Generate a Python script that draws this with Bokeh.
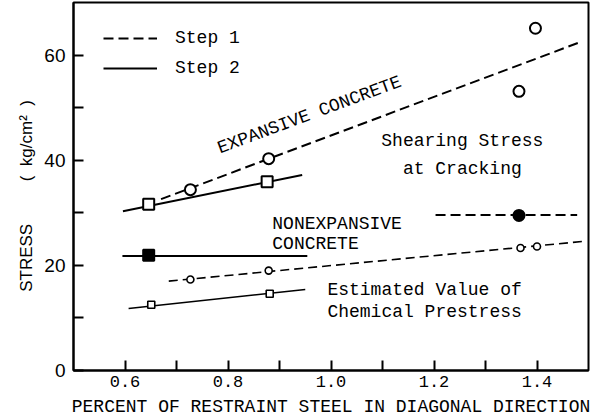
import math
from bokeh.plotting import figure
from bokeh.models import Range1d, FixedTicker, Label, Legend, LegendItem, PrintfTickFormatter
from bokeh.embed import file_html
from bokeh.resources import INLINE

# ---- axis ticks ----
x_major = [0.6, 0.8, 1.0, 1.2, 1.4]
x_minor = [0.7, 0.9, 1.1, 1.3]
y_major = [0, 20, 40, 60]
y_minor = [10, 30, 50]

# ---- Expansive concrete, Step 1 (shearing stress at cracking) ----
exp1_x = [0.727, 0.879, 1.365, 1.397]
exp1_y = [34.4, 40.3, 53.1, 65.1]
exp1_line_x = [0.67, 1.485]
exp1_line_y = [32.6, 62.5]

# ---- Expansive concrete, Step 2 ----
exp2_x = [0.646, 0.876]
exp2_y = [31.6, 35.9]
exp2_line_x = [0.596, 0.944]
exp2_line_y = [30.3, 37.2]

# ---- Nonexpansive concrete, Step 2 ----
non2_x = [0.646]
non2_y = [21.9]
non2_line_x = [0.595, 0.954]
non2_line_y = [21.8, 21.8]

# ---- Nonexpansive concrete, Step 1 ----
non1_x = [1.365]
non1_y = [29.5]
non1_line_x = [1.203, 1.478]
non1_line_y = [29.6, 29.6]

# ---- Estimated chemical prestress, Step 1 ----
chem1_x = [0.727, 0.879, 1.368, 1.400]
chem1_y = [17.3, 19.0, 23.3, 23.6]
chem1_line_x = [0.685, 1.494]
chem1_line_y = [17.0, 24.6]

# ---- Estimated chemical prestress, Step 2 ----
chem2_x = [0.651, 0.881]
chem2_y = [12.5, 14.6]
chem2_line_x = [0.607, 0.950]
chem2_line_y = [11.8, 15.4]

MONO = "Liberation Mono"
SANS = "Liberation Sans"
NB = "\u00a0"

p = figure(width=597, height=419, x_range=Range1d(0.5, 1.5), y_range=Range1d(0, 70),
           output_backend="svg", toolbar_location=None,
           min_border_left=73, min_border_right=9, min_border_top=2, min_border_bottom=0)
p.grid.visible = False
p.outline_line_color = "black"
p.outline_line_width = 2
p.outline_line_alpha = 1.0
p.background_fill_color = "white"
p.border_fill_color = "white"

# x axis
p.xaxis.ticker = FixedTicker(ticks=x_major, minor_ticks=x_minor)
p.xaxis.formatter = PrintfTickFormatter(format="%.1f")
p.xaxis.axis_label = "PERCENT OF RESTRAINT STEEL IN DIAGONAL DIRECTION"
p.xaxis.axis_label_text_font = MONO
p.xaxis.axis_label_text_font_size = "18px"
p.xaxis.axis_label_text_font_style = "normal"
p.xaxis.axis_label_standoff = 7
p.xaxis.major_label_text_font = MONO
p.xaxis.major_label_text_font_size = "17px"
p.xaxis.major_label_standoff = 5

# y axis
p.yaxis.ticker = FixedTicker(ticks=y_major, minor_ticks=y_minor)
p.yaxis.major_label_text_font = SANS
p.yaxis.major_label_text_font_size = "19px"
p.yaxis.major_label_standoff = 8
p.yaxis.axis_label = ("STRESS" + NB * 9 + "(" + NB * 2 + "kg/cm\u00b2" + NB * 2 + ")" + NB * 4)
p.yaxis.axis_label_text_font = SANS
p.yaxis.axis_label_text_font_size = "17px"
p.yaxis.axis_label_text_font_style = "normal"
p.yaxis.axis_label_standoff = 5

for ax in (p.xaxis, p.yaxis):
    ax.axis_line_width = 2
    ax.axis_line_color = "black"
    ax.major_tick_in = 10
    ax.major_tick_out = 0
    ax.minor_tick_in = 10
    ax.minor_tick_out = 0
    ax.major_tick_line_width = 2
    ax.minor_tick_line_width = 2
    ax.major_tick_line_color = "black"
    ax.minor_tick_line_color = "black"
    ax.major_label_text_color = "black"
    ax.axis_label_text_color = "black"

# lines
r_exp1 = p.line(exp1_line_x, exp1_line_y, line_color="black", line_width=2, line_dash="10 5")
r_exp2 = p.line(exp2_line_x, exp2_line_y, line_color="black", line_width=2)
p.line(non2_line_x, non2_line_y, line_color="black", line_width=2)
p.line(non1_line_x, non1_line_y, line_color="black", line_width=2, line_dash="10 5")
p.line(chem1_line_x, chem1_line_y, line_color="black", line_width=1.6, line_dash="9 5")
p.line(chem2_line_x, chem2_line_y, line_color="black", line_width=1.6)

# markers
p.scatter(exp1_x, exp1_y, marker="circle", size=11, fill_color="white", line_color="black", line_width=2)
p.scatter(exp2_x, exp2_y, marker="square", size=11, fill_color="white", line_color="black", line_width=2)
p.scatter(non2_x, non2_y, marker="square", size=11, fill_color="black", line_color="black", line_width=2)
p.scatter(non1_x, non1_y, marker="circle", size=11, fill_color="black", line_color="black", line_width=2)
p.scatter(chem1_x, chem1_y, marker="circle", size=7, fill_color="white", line_color="black", line_width=1.6)
p.scatter(chem2_x, chem2_y, marker="square", size=7, fill_color="white", line_color="black", line_width=1.6)

# legend
legend = Legend(items=[LegendItem(label="Step 1", renderers=[r_exp1]),
                       LegendItem(label="Step 2", renderers=[r_exp2])],
                location=(30, 292), orientation="vertical",
                border_line_color=None, background_fill_alpha=0,
                label_text_font=MONO, label_text_font_size="18px", label_text_color="black",
                glyph_width=54, glyph_height=20, label_height=20,
                label_standoff=18, spacing=10, padding=0, margin=0)
p.add_layout(legend)

def lab(x, y, text, font=MONO, size="18px", align="left", angle=0.0):
    p.add_layout(Label(x=x, y=y, text=text, text_font=font, text_font_size=size,
                       text_align=align, text_baseline="middle", angle=angle,
                       text_color="black"))

lab(0.958, 48.6, "EXPANSIVE CONCRETE", align="center", angle=math.radians(20.3))
lab(1.255, 43.7, "Shearing Stress", align="center")
lab(1.255, 38.3, "at Cracking", align="center")
lab(0.886, 27.9, "NONEXPANSIVE")
lab(0.886, 24.0, "CONCRETE")
lab(0.993, 15.4, "Estimated Value of")
lab(0.993, 11.2, "Chemical Prestress")

open("out.html", "w").write(file_html(p, INLINE))
